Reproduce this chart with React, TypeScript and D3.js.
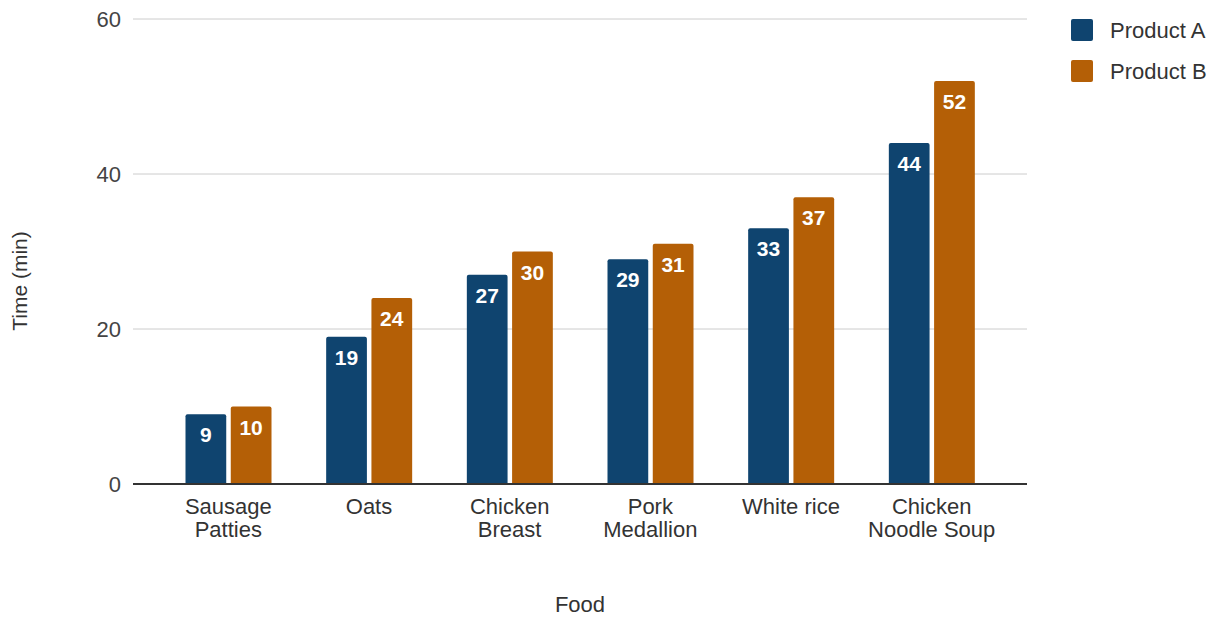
import React from "react";
import * as d3 from "d3";

const categories = [
  ["Sausage", "Patties"],
  ["Oats"],
  ["Chicken", "Breast"],
  ["Pork", "Medallion"],
  ["White rice"],
  ["Chicken", "Noodle Soup"],
];
const seriesNames = ["Product A", "Product B"];
const productA = [9, 19, 27, 29, 33, 44];
const productB = [10, 24, 30, 31, 37, 52];
const yTicks = [0, 20, 40, 60];
const colors = ["#0f446f", "#b45f06"];

const W = 1215;
const H = 618;
const FONT = "'Liberation Sans', Arial, Helvetica, sans-serif";

export default function App() {
  const gridLeft = 133;
  const gridRight = 1027;
  const bandLeft = 158;
  const bandRight = 1002;

  const y = d3.scaleLinear().domain([0, 60]).range([484, 19]);
  const x0 = d3
    .scaleBand<number>()
    .domain(categories.map((_, i) => i))
    .range([bandLeft, bandRight])
    .paddingInner(0)
    .paddingOuter(0);
  const x1 = d3
    .scaleBand<number>()
    .domain([0, 1])
    .range([27.5, 113.5])
    .paddingInner(0.1)
    .paddingOuter(0);

  const series = [productA, productB];

  return (
    <svg
      width={W}
      height={H}
      style={{ position: "absolute", left: 0, top: 0, background: "#fff" }}
      fontFamily={FONT}
    >
      {yTicks.map((t) => (
        <g key={t}>
          {t !== 0 && (
            <line
              x1={gridLeft}
              x2={gridRight}
              y1={y(t)}
              y2={y(t)}
              stroke="#cccccc"
              strokeWidth={1}
            />
          )}
          <text
            x={121}
            y={y(t)}
            dy="0.35em"
            textAnchor="end"
            fontSize={22}
            fill="#444"
          >
            {t}
          </text>
        </g>
      ))}

      {categories.map((cat, ci) =>
        series.map((vals, si) => {
          const bx = (x0(ci) ?? 0) + (x1(si) ?? 0);
          const bw = x1.bandwidth();
          const top = y(vals[ci]);
          const base = y(0);
          const r = 2;
          const path = `M${bx},${base} V${top + r} Q${bx},${top} ${bx + r},${top} H${bx + bw - r} Q${bx + bw},${top} ${bx + bw},${top + r} V${base} Z`;
          return (
            <g key={`${ci}-${si}`}>
              <path d={path} fill={colors[si]} />
              <text
                x={bx + bw / 2}
                y={top + 28}
                textAnchor="middle"
                fontSize={21}
                fontWeight={700}
                fill="#fff"
              >
                {vals[ci]}
              </text>
            </g>
          );
        })
      )}

      <line
        x1={gridLeft}
        x2={gridRight}
        y1={y(0)}
        y2={y(0)}
        stroke="#333"
        strokeWidth={2}
      />

      {categories.map((lines, ci) => {
        const cx = (x0(ci) ?? 0) + x0.bandwidth() / 2;
        return (
          <text key={ci} x={cx} y={514} textAnchor="middle" fontSize={22} fill="#333">
            {lines.map((l, li) => (
              <tspan key={li} x={cx} dy={li === 0 ? 0 : 23}>
                {l}
              </tspan>
            ))}
          </text>
        );
      })}

      <text x={580} y={612} textAnchor="middle" fontSize={22} fill="#333">
        Food
      </text>
      <text
        transform={`translate(27,281) rotate(-90)`}
        textAnchor="middle"
        fontSize={21}
        fill="#333"
      >
        Time (min)
      </text>

      {seriesNames.map((name, i) => (
        <g key={name} transform={`translate(1071,${19 + i * 41})`}>
          <rect width={22} height={22} rx={2} fill={colors[i]} />
          <text x={39} y={11} dy="0.35em" fontSize={22} fill="#333">
            {name}
          </text>
        </g>
      ))}
    </svg>
  );
}
